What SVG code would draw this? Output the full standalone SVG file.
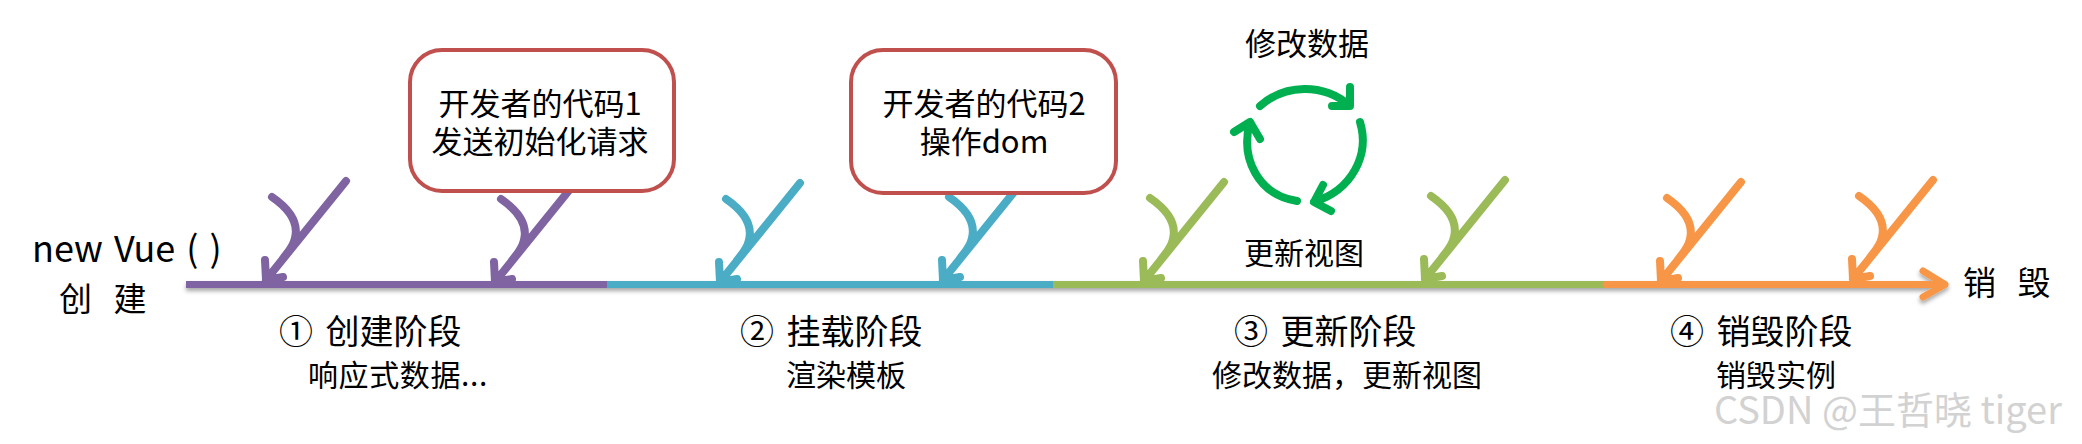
<svg xmlns="http://www.w3.org/2000/svg" width="2082" height="444" viewBox="0 0 2082 444">
<defs>
<style>
text{font-family:"Noto Sans CJK SC","Noto Sans",sans-serif;fill:#000;font-size:30px}
.m{text-anchor:middle}
.b{font-size:31px}
.h{font-size:34px;word-spacing:5px}
.e{font-size:33px;word-spacing:14px}
.v{font-size:36px;word-spacing:3px}
.wm{font-size:38px;fill:#d2d2d2}
.a{fill:none;stroke-width:8;stroke-linecap:round;stroke-linejoin:round}
.box{fill:#fff;stroke:#C0504D;stroke-width:4}
.pu{stroke:#8064A2}.te{stroke:#4BACC6}.gr{stroke:#9BBB59}.or{stroke:#F79646}
.cy{fill:none;stroke:#00B050;stroke-width:8;stroke-linecap:round;stroke-linejoin:round}
</style>
<filter id="sh" x="-2%" y="-100%" width="104%" height="300%"><feDropShadow dx="0" dy="3" stdDeviation="2" flood-color="#000" flood-opacity=".35"/></filter>
<path id="ar" d="M0 0L80 -99M6 -83C22 -72 33 -58 29 -42C27 -32 20 -26 16 -20L0 0M-1 -20L0 0L17 -3"/>
</defs>
<g id="connectors">
<g filter="url(#sh)" fill="none" stroke-width="7">
<path stroke="#8064A2" d="M186 284.500H607"/>
<path stroke="#4BACC6" d="M607 284.500H1053"/>
<path stroke="#9BBB59" d="M1053 284.500H1606"/>
<path stroke="#F79646" d="M1606 284.500H1945M1923 271L1945 284.500L1923 297" stroke-linecap="round" stroke-linejoin="round"/>
</g>
<use href="#ar" class="a pu" x="266" y="280"/>
<use href="#ar" class="a pu" x="495" y="282"/>
<use href="#ar" class="a te" x="720" y="282"/>
<use href="#ar" class="a te" x="943" y="280"/>
<use href="#ar" class="a gr" x="1144" y="281"/>
<use href="#ar" class="a gr" x="1425" y="279"/>
<use href="#ar" class="a or" x="1661" y="281"/>
<use href="#ar" class="a or" x="1853" y="279"/>
</g>
<g id="box1"><rect class="box" x="410" y="50" width="264" height="141" rx="32"/>
<text class="m b" x="540" y="115">开发者的代码1</text><text class="m b" x="540" y="153">发送初始化请求</text></g>
<g id="box2"><rect class="box" x="851" y="50" width="265" height="143" rx="32"/>
<text class="m b" x="984" y="115">开发者的代码2</text><text class="m b" x="984" y="153">操作dom</text></g>
<g id="cycle">
<path class="cy" d="M1260 106A68 68 0 0 1 1349 105M1350 87V106L1332 106"/>
<path class="cy" d="M1360 122C1370 155 1352 190 1314 202M1323 185L1314 202L1331 211"/>
<path class="cy" d="M1297 201C1258 195 1240 158 1250 122M1234 132L1250 122L1260 139"/>
<text class="m b" x="1307" y="55">修改数据</text><text class="m" x="1304" y="264">更新视图</text>
</g>
<g id="start"><text class="v" x="32" y="262">new Vue ( )</text><text class="e" x="59" y="311">创 建</text></g>
<g id="end"><text class="e" x="1963" y="295">销 毁</text></g>
<g id="stage1"><text class="h" x="279" y="344">① 创建阶段</text><text x="308" y="386" letter-spacing=".6">响应式数据...</text></g>
<g id="stage2"><text class="h" x="740" y="344">② 挂载阶段</text><text x="786" y="386">渲染模板</text></g>
<g id="stage3"><text class="h" x="1234" y="344">③ 更新阶段</text><text x="1212" y="386">修改数据，更新视图</text></g>
<g id="stage4"><text class="h" x="1670" y="344">④ 销毁阶段</text><text x="1716" y="386">销毁实例</text></g>
<text class="wm" x="1714" y="424">CSDN @王哲晓 tiger</text>
</svg>
